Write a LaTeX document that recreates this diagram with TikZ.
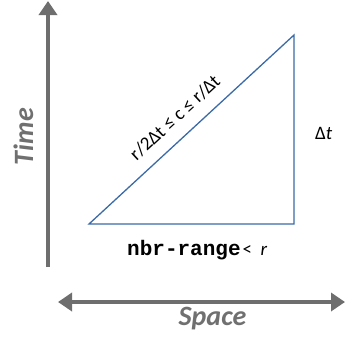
\documentclass[tikz,border=0pt]{standalone}
\usepackage{fontspec}
\setmainfont{Carlito}
\newfontfamily\monofont{Liberation Mono}
\usetikzlibrary{arrows.meta}
\definecolor{axisgray}{HTML}{6E6E6E}
\definecolor{labelgray}{HTML}{707070}
\definecolor{triblue}{HTML}{3A6AA8}
\tikzset{
  axis/.style={draw=axisgray, line width=3.5pt, -{Triangle[length=14pt,width=18pt]}},
  axisboth/.style={draw=axisgray, line width=3.5pt, {Triangle[length=14pt,width=18pt]}-{Triangle[length=14pt,width=18pt]}},
  axislabel/.style={text=labelgray, inner sep=0pt, anchor=base, font=\fontsize{28}{32}\selectfont\bfseries\itshape},
  tri/.style={draw=triblue, line width=1.3pt, line join=miter},
  lab/.style={font=\fontsize{19}{22}\selectfont, text=black, inner sep=0pt}
}
\begin{document}
\begin{tikzpicture}[x=1pt,y=-1pt]
\useasboundingbox (0,0) rectangle (345,338);
\coordinate (tb) at (48,267);
\coordinate (tt) at (48,1);
\coordinate (sl) at (58,302);
\coordinate (sr) at (345,302);
\draw[axis] (tb) -- (tt);
\draw[axisboth] (sl) -- (sr);
\node[axislabel, rotate=90] (time) at (33,136.5) {Time};
\node[axislabel] (space) at (212.5,325) {Space};
\coordinate (A) at (89,224);
\coordinate (B) at (294,224);
\coordinate (C) at (294,35);
\draw[tri] (A) -- (B) -- (C) -- cycle;
\node[lab, rotate=42.7, anchor=base west] (hyp) at (136.5,161.5) {r/2Δt ≤ c ≤ r/Δt};
\node[lab, anchor=base west] (dt) at (315,139) {Δ\textit{t}};
\node[lab, anchor=base west] (nbr) at (127,255) {{\monofont\bfseries\fontsize{21}{22}\selectfont nbr-range}\hspace{2pt}<\hspace{8.5pt}\textit{r}};
\end{tikzpicture}
\end{document}
